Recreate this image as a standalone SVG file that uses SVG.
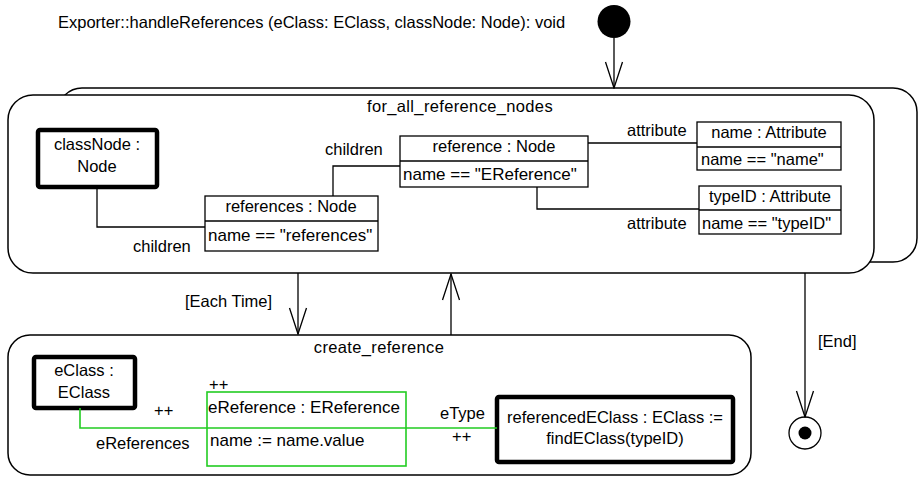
<svg xmlns="http://www.w3.org/2000/svg" width="921" height="477" viewBox="0 0 921 477">
<defs>
<style>
text{font-family:"Liberation Sans",Arial,sans-serif;font-size:16.5px;fill:#000}
.frame{fill:#fff;stroke:#000;stroke-width:1.5}
.box{fill:#fff;stroke:#000;stroke-width:1.3}
.bold{fill:#fff;stroke:#000;stroke-width:4.5}
.green{fill:none;stroke:#22cc22;stroke-width:1.6}
.link{fill:none;stroke:#000;stroke-width:1.3}
.glink{fill:none;stroke:#22cc22;stroke-width:1.6}
.flow{fill:none;stroke:#000;stroke-width:1.3}
.c{text-anchor:middle}
.fl{letter-spacing:0.35px}
.big{font-size:17px}
</style>
<marker id="open" viewBox="0 0 28 20" refX="27" refY="10" markerWidth="28" markerHeight="20" markerUnits="userSpaceOnUse" orient="auto">
<path d="M1,1.5 L27,10 L1,18.5" fill="none" stroke="#000" stroke-width="1.3"/>
</marker>
</defs>
<text x="58" y="28">Exporter::handleReferences (eClass: EClass, classNode: Node): void</text>
<g id="start"><circle cx="614" cy="21.5" r="16.5" fill="#000"/></g>
<g id="for_all_reference_nodes">
<rect class="frame" x="58" y="88" width="859" height="174" rx="24"/>
<rect class="frame" x="8" y="95" width="866" height="178" rx="25"/>
<text class="c fl" x="460" y="112">for_all_reference_nodes</text>
</g>
<g id="classNode">
<rect class="bold" x="38" y="130" width="119" height="57" rx="2"/>
<text class="c" x="97" y="150">classNode :</text>
<text class="c" x="97" y="172">Node</text>
</g>
<g id="references">
<rect class="box" x="205" y="196" width="173" height="55"/>
<line class="link" x1="205" y1="221" x2="378" y2="221"/>
<text class="c" x="291" y="212">references : Node</text>
<text class="big" x="208" y="241">name == "references"</text>
</g>
<g id="reference">
<rect class="box" x="400" y="136" width="188" height="51"/>
<line class="link" x1="400" y1="161" x2="588" y2="161"/>
<text class="c" x="494" y="152">reference : Node</text>
<text class="big" x="403" y="180">name == "EReference"</text>
</g>
<g id="nameAttr">
<rect class="box" x="697" y="122" width="144" height="48"/>
<line class="link" x1="697" y1="147" x2="841" y2="147"/>
<text class="c" x="769" y="138">name : Attribute</text>
<text x="701" y="165">name == "name"</text>
</g>
<g id="typeIDAttr">
<rect class="box" x="699" y="186" width="142" height="48"/>
<line class="link" x1="699" y1="210" x2="841" y2="210"/>
<text class="c" x="770" y="202">typeID : Attribute</text>
<text x="702" y="229">name == "typeID"</text>
</g>
<g id="create_reference">
<rect class="frame" x="8" y="335" width="743" height="140" rx="22"/>
<text class="c fl" x="379" y="353">create_reference</text>
</g>
<g id="eClass">
<rect class="bold" x="34" y="357" width="101" height="51" rx="2"/>
<text class="c" x="84" y="376">eClass :</text>
<text class="c" x="84" y="398">EClass</text>
</g>
<g id="eReference">
<rect class="green" x="207" y="392" width="199" height="74"/>
<text x="209" y="390">++</text>
<text class="big" x="208" y="413">eReference : EReference</text>
<text class="big" x="210" y="446">name := name.value</text>
</g>
<g id="referencedEClass">
<rect class="bold" x="497" y="397" width="236" height="65" rx="2"/>
<text class="c" x="615" y="423">referencedEClass : EClass :=</text>
<text class="c" x="615" y="444">findEClass(typeID)</text>
</g>
<g id="end">
<circle cx="805" cy="433" r="16" fill="#fff" stroke="#000" stroke-width="1.3"/>
<circle cx="805" cy="433" r="6.5" fill="#000"/>
</g>
<g id="connectors">
<polyline class="link" points="97,187 97,227 205,227"/>
<text x="133" y="252">children</text>
<polyline class="link" points="333,196 333,166 400,166"/>
<text x="325" y="155">children</text>
<line class="link" x1="588" y1="143" x2="697" y2="143"/>
<text x="627" y="136">attribute</text>
<polyline class="link" points="537,187 537,209 699,209"/>
<text x="627" y="229">attribute</text>
<polyline class="glink" points="80,408 80,428 497,428"/>
<text x="154" y="416">++</text>
<text x="96" y="449">eReferences</text>
<text x="440" y="419">eType</text>
<text x="452" y="442">++</text>
<line class="flow" x1="614" y1="38" x2="614" y2="88" marker-end="url(#open)"/>
<line class="flow" x1="298" y1="273" x2="298" y2="334" marker-end="url(#open)"/>
<text x="185" y="307">[Each Time]</text>
<line class="flow" x1="451" y1="335" x2="451" y2="274" marker-end="url(#open)"/>
<line class="flow" x1="805" y1="273" x2="805" y2="417" marker-end="url(#open)"/>
<text x="818" y="347">[End]</text>
</g>
</svg>
